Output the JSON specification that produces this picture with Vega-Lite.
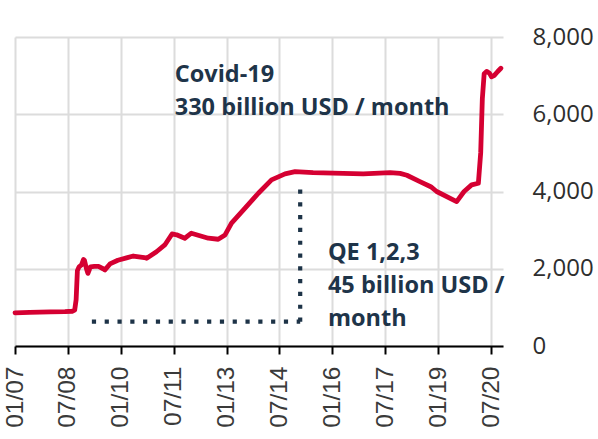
{
  "$schema": "https://vega.github.io/schema/vega-lite/v6.json",
  "width": 488,
  "height": 309,
  "autosize": {"type": "none"},
  "padding": {"left": 15, "top": 37, "right": 95, "bottom": 93},
  "background": "white",
  "config": {"view": {"stroke": null}},
  "datasets": {
    "fed": [
      {"date": "2007-01-01", "assets": 860},
      {"date": "2007-06-01", "assets": 870},
      {"date": "2008-01-01", "assets": 885},
      {"date": "2008-06-01", "assets": 890},
      {"date": "2008-08-15", "assets": 900},
      {"date": "2008-09-10", "assets": 930},
      {"date": "2008-09-25", "assets": 1200},
      {"date": "2008-10-08", "assets": 1950},
      {"date": "2008-10-25", "assets": 2050},
      {"date": "2008-11-20", "assets": 2100},
      {"date": "2008-12-10", "assets": 2240},
      {"date": "2008-12-20", "assets": 2220},
      {"date": "2009-01-10", "assets": 2000},
      {"date": "2009-01-25", "assets": 1880},
      {"date": "2009-02-20", "assets": 2050},
      {"date": "2009-04-01", "assets": 2060},
      {"date": "2009-05-15", "assets": 2060},
      {"date": "2009-07-01", "assets": 2000},
      {"date": "2009-07-20", "assets": 1970},
      {"date": "2009-09-10", "assets": 2125},
      {"date": "2009-12-01", "assets": 2220},
      {"date": "2010-03-01", "assets": 2280},
      {"date": "2010-05-10", "assets": 2330},
      {"date": "2010-09-01", "assets": 2290},
      {"date": "2010-09-25", "assets": 2270},
      {"date": "2011-01-05", "assets": 2440},
      {"date": "2011-04-01", "assets": 2616},
      {"date": "2011-06-15", "assets": 2900},
      {"date": "2011-08-01", "assets": 2880},
      {"date": "2011-10-25", "assets": 2790},
      {"date": "2012-01-01", "assets": 2920},
      {"date": "2012-06-25", "assets": 2790},
      {"date": "2012-10-05", "assets": 2764},
      {"date": "2012-12-15", "assets": 2876},
      {"date": "2013-02-20", "assets": 3180},
      {"date": "2013-07-10", "assets": 3570},
      {"date": "2013-11-25", "assets": 3955},
      {"date": "2014-04-10", "assets": 4300},
      {"date": "2014-08-28", "assets": 4456},
      {"date": "2014-12-10", "assets": 4516},
      {"date": "2015-06-15", "assets": 4490},
      {"date": "2016-11-15", "assets": 4456},
      {"date": "2017-08-20", "assets": 4490},
      {"date": "2017-12-01", "assets": 4470},
      {"date": "2018-02-10", "assets": 4420},
      {"date": "2018-06-25", "assets": 4257},
      {"date": "2018-10-15", "assets": 4124},
      {"date": "2018-12-15", "assets": 4000},
      {"date": "2019-07-10", "assets": 3739},
      {"date": "2019-09-25", "assets": 4000},
      {"date": "2019-12-12", "assets": 4171},
      {"date": "2020-02-20", "assets": 4214},
      {"date": "2020-03-15", "assets": 5000},
      {"date": "2020-04-01", "assets": 6400},
      {"date": "2020-04-20", "assets": 7050},
      {"date": "2020-05-15", "assets": 7110},
      {"date": "2020-06-15", "assets": 7060},
      {"date": "2020-07-05", "assets": 6970},
      {"date": "2020-08-01", "assets": 7000},
      {"date": "2020-09-05", "assets": 7100},
      {"date": "2020-10-10", "assets": 7190}
    ],
    "guides": [
      {"date": "2009-03-07", "date_end": "2015-02-01", "assets": 630, "assets_end": 630},
      {"date": "2015-02-01", "date_end": "2015-02-01", "assets": 630, "assets_end": 4250}
    ],
    "notes": [
      {"date": "2011-07-13", "assets": 6835, "label": ["Covid-19", "330 billion USD / month"]},
      {"date": "2015-11-15", "assets": 2226, "label": ["QE 1,2,3", "45 billion USD /", "month"]}
    ]
  },
  "encoding": {
    "x": {
      "field": "date",
      "type": "temporal",
      "scale": {
        "type": "utc",
        "domain": [
          {"year": 2007, "month": 1, "date": 1, "utc": true},
          {"year": 2020, "month": 11, "date": 1, "utc": true}
        ]
      },
      "axis": {
        "title": null,
        "values": [
          {"year": 2007, "month": 1, "date": 1, "utc": true},
          {"year": 2008, "month": 7, "date": 1, "utc": true},
          {"year": 2010, "month": 1, "date": 1, "utc": true},
          {"year": 2011, "month": 7, "date": 1, "utc": true},
          {"year": 2013, "month": 1, "date": 1, "utc": true},
          {"year": 2014, "month": 7, "date": 1, "utc": true},
          {"year": 2016, "month": 1, "date": 1, "utc": true},
          {"year": 2017, "month": 7, "date": 1, "utc": true},
          {"year": 2019, "month": 1, "date": 1, "utc": true},
          {"year": 2020, "month": 7, "date": 1, "utc": true}
        ],
        "format": "%m/%y",
        "labelAngle": -90,
        "labelFont": "Liberation Sans",
        "labelFontSize": 24.5,
        "labelColor": "#3a3a3a",
        "labelPadding": 12,
        "labelFlush": false,
        "labelOverlap": false,
        "tickColor": "#000000",
        "tickWidth": 2,
        "tickSize": 8,
        "domainColor": "#000000",
        "domainWidth": 2,
        "grid": true,
        "gridColor": "#dcdcdc",
        "gridWidth": 2
      }
    },
    "y": {
      "field": "assets",
      "type": "quantitative",
      "scale": {"domain": [0, 8000], "nice": false},
      "axis": {
        "orient": "right",
        "title": null,
        "values": [0, 2000, 4000, 6000, 8000],
        "format": ",.0f",
        "domain": false,
        "ticks": false,
        "labelPadding": 29,
        "labelFont": "Open Sans",
        "labelFontSize": 24,
        "labelColor": "#2e2e2e",
        "grid": true,
        "gridColor": "#dcdcdc",
        "gridWidth": 2
      }
    }
  },
  "layer": [
    {
      "data": {"name": "fed"},
      "mark": {"type": "line", "color": "#d50032", "strokeWidth": 4.8, "strokeJoin": "round", "strokeCap": "round"}
    },
    {
      "data": {"name": "guides"},
      "mark": {"type": "rule", "color": "#1d3347", "strokeWidth": 4.2, "strokeDash": [4.2, 8.6], "strokeCap": "butt"},
      "encoding": {
        "x2": {"field": "date_end"},
        "y2": {"field": "assets_end"}
      }
    },
    {
      "data": {"name": "notes"},
      "mark": {"type": "text", "align": "left", "baseline": "alphabetic", "font": "Open Sans", "fontWeight": "bold", "fontSize": 23.5, "lineHeight": 33, "color": "#1e3449"},
      "encoding": {
        "text": {"field": "label"}
      }
    }
  ]
}
